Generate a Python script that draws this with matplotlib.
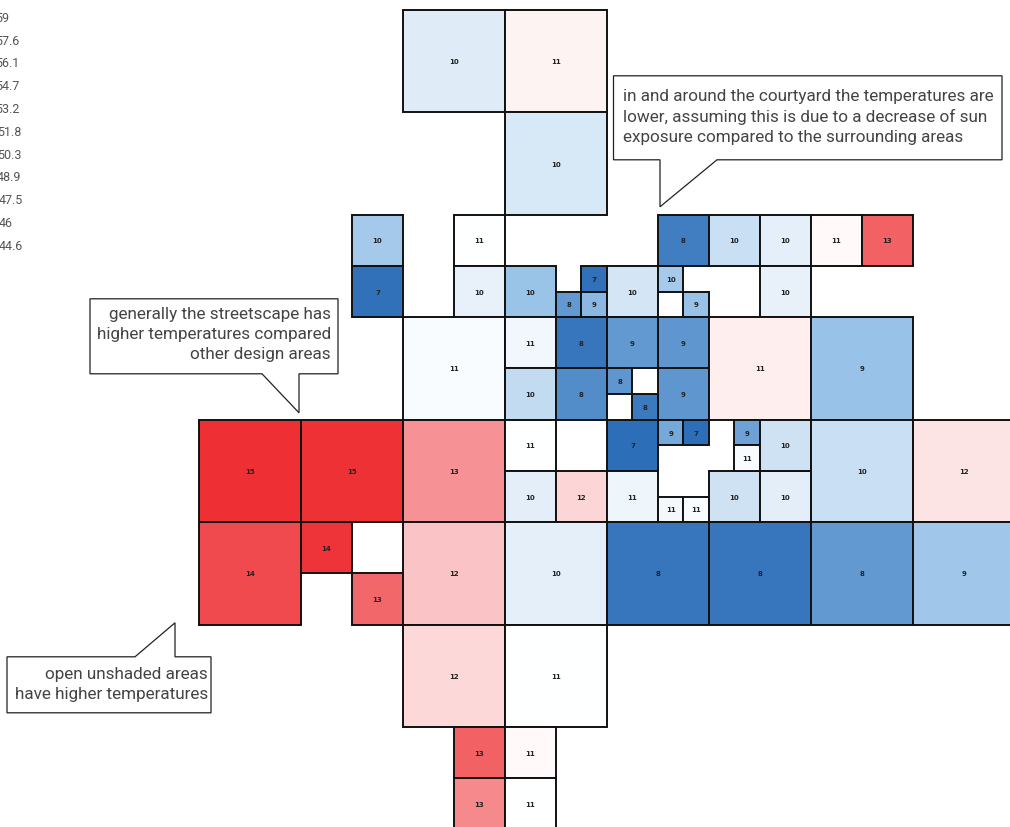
from matplotlib import pyplot as plt
from matplotlib.colors import LinearSegmentedColormap, Normalize
from matplotlib.patches import Rectangle, Polygon

# grid cells, one unit = a quarter of the large square
cell_col = [8, 12, 12,
            6, 6, 10, 10, 12, 15, 14, 15, 16, 18, 20, 22, 24, 26, 18, 19, 22,
            8, 12, 12, 14, 14, 16, 18, 16, 17, 18, 20, 24,
            0, 4, 8, 12, 12, 14, 16, 16, 18, 19, 18, 19, 20, 22, 21, 21, 22, 24, 28,
            0, 4, 6, 8, 12, 16, 20, 24, 28,
            8, 12, 10, 12, 10, 12]
cell_row = [0, 0, 4,
            8, 10, 8, 10, 10, 10, 11, 11, 10, 8, 8, 8, 8, 8, 10, 11, 10,
            12, 12, 14, 12, 14, 12, 12, 14, 15, 14, 12, 12,
            16, 16, 16, 16, 18, 18, 16, 18, 16, 16, 19, 19, 18, 18, 16, 17, 16, 16, 16,
            20, 20, 22, 20, 20, 20, 20, 20, 20,
            24, 24, 28, 28, 30, 30]
cell_size = [4, 4, 4,
             2, 2, 2, 2, 2, 1, 1, 1, 2, 2, 2, 2, 2, 2, 1, 1, 2,
             4, 2, 2, 2, 2, 2, 2, 1, 1, 2, 4, 4,
             4, 4, 4, 2, 2, 2, 2, 2, 1, 1, 1, 1, 2, 2, 1, 1, 2, 4, 4,
             4, 2, 2, 4, 4, 4, 4, 4, 4,
             4, 4, 2, 2, 2, 2]
cell_label = [10, 11, 10,
              10, 7, 11, 10, 10, 7, 8, 9, 10, 8, 10, 10, 11, 13, 10, 9, 10,
              11, 11, 10, 8, 8, 9, 9, 8, 8, 9, 11, 9,
              15, 15, 13, 11, 10, 12, 7, 11, 9, 7, 11, 11, 10, 10, 9, 11, 10, 10, 12,
              14, 14, 13, 12, 10, 8, 8, 8, 9,
              12, 11, 13, 11, 13, 11]
# temperatures
cell_temp = [50.7, 52.2, 50.4,
             48.6, 44.8, 51.8, 51.0, 48.3, 44.8, 46.5, 47.8, 50.3, 45.3, 49.9, 50.9, 52.0, 57.2, 48.7, 48.2, 51.0,
             51.6, 51.3, 49.7, 45.0, 45.9, 46.5, 46.4, 46.4, 45.2, 46.4, 52.4, 48.2,
             59.0, 58.9, 55.5, 51.8, 50.8, 53.2, 44.7, 51.2, 47.1, 44.7, 51.4, 51.6, 50.1, 50.8, 46.8, 51.6, 50.1, 49.9, 52.7,
             58.0, 58.8, 57.0, 53.8, 50.9, 45.0, 45.0, 46.5, 48.5,
             53.1, 51.8, 57.2, 52.0, 55.8, 51.8]

legend_labels = ['59', '57.6', '56.1', '54.7', '53.2', '51.8', '50.3', '48.9', '47.5', '46', '44.6']
legend_left = [-5, -5, -5, -5, -5, -3, -3, -3, -1, -1, -1.5]

notes = ['in and around the courtyard the temperatures are\nlower, assuming this is due to a decrease of sun\nexposure compared to the surrounding areas',
         'generally the streetscape has\nhigher temperatures compared\nother design areas',
         'open unshaded areas\nhave higher temperatures']

W, H = 1010, 828
cmap = LinearSegmentedColormap.from_list('temps', [(0.0, '#2b6db8'), (0.25, '#98c2e8'), (0.5, '#ffffff'),
                                                   (0.75, '#f69598'), (1.0, '#ee2f33')])
norm = Normalize(44.6, 59.0)

fig = plt.figure(figsize=(W/100, H/100), dpi=100)

# map axes, scaled so the quarter grid sits on the picture
ax = fig.add_axes([0, 0, 1, 1])
ax.set_xlim(-199/25.5, (W-199)/25.5)
ax.set_ylim((H-10.8)/25.62, -10.8/25.62)
ax.axis('off')

for col, row, size, label, temp in zip(cell_col, cell_row, cell_size, cell_label, cell_temp):
    ax.add_patch(Rectangle((col, row), size, size, facecolor=cmap(norm(temp)),
                           edgecolor='#111111', linewidth=1.4, clip_on=False))
    ax.text(col+size/2, row+size/2, str(label), ha='center', va='center', fontsize=5,
            fontweight='bold', family='DejaVu Sans', color='#222222')

# overlay in pixel coordinates for legend and callouts
over = fig.add_axes([0, 0, 1, 1])
over.set_xlim(0, W)
over.set_ylim(H-0.8, -0.8)
over.axis('off')
over.patch.set_alpha(0)

for i, label in enumerate(legend_labels):
    over.text(legend_left[i], 17.5+i*22.8, label, ha='left', va='center', fontsize=9, family='Roboto',
              color='#555555')

callouts = [[(613.5, 76), (1002, 76), (1002, 160), (717, 160), (660, 207), (660, 160), (613.5, 160)],
            [(90, 299), (338, 299), (338, 374), (299, 374), (299, 413), (262, 374), (90, 374)],
            [(7, 657), (135, 657), (175, 623), (175, 657), (211, 657), (211, 713), (7, 713)]]
for points in callouts:
    over.add_patch(Polygon(points, closed=True, facecolor='white', edgecolor='#222222', linewidth=0.9))

over.text(623, 116, notes[0], ha='left', va='center', fontsize=12.3, family='Roboto',
          color='#444444', linespacing=1.42)
over.text(331, 334, notes[1], ha='right', va='center', fontsize=12.3, family='Roboto',
          color='#444444', linespacing=1.42, multialignment='right')
over.text(208, 684, notes[2], ha='right', va='center', fontsize=12.3, family='Roboto',
          color='#444444', linespacing=1.42, multialignment='right')

fig.savefig('out.png', dpi=100)
